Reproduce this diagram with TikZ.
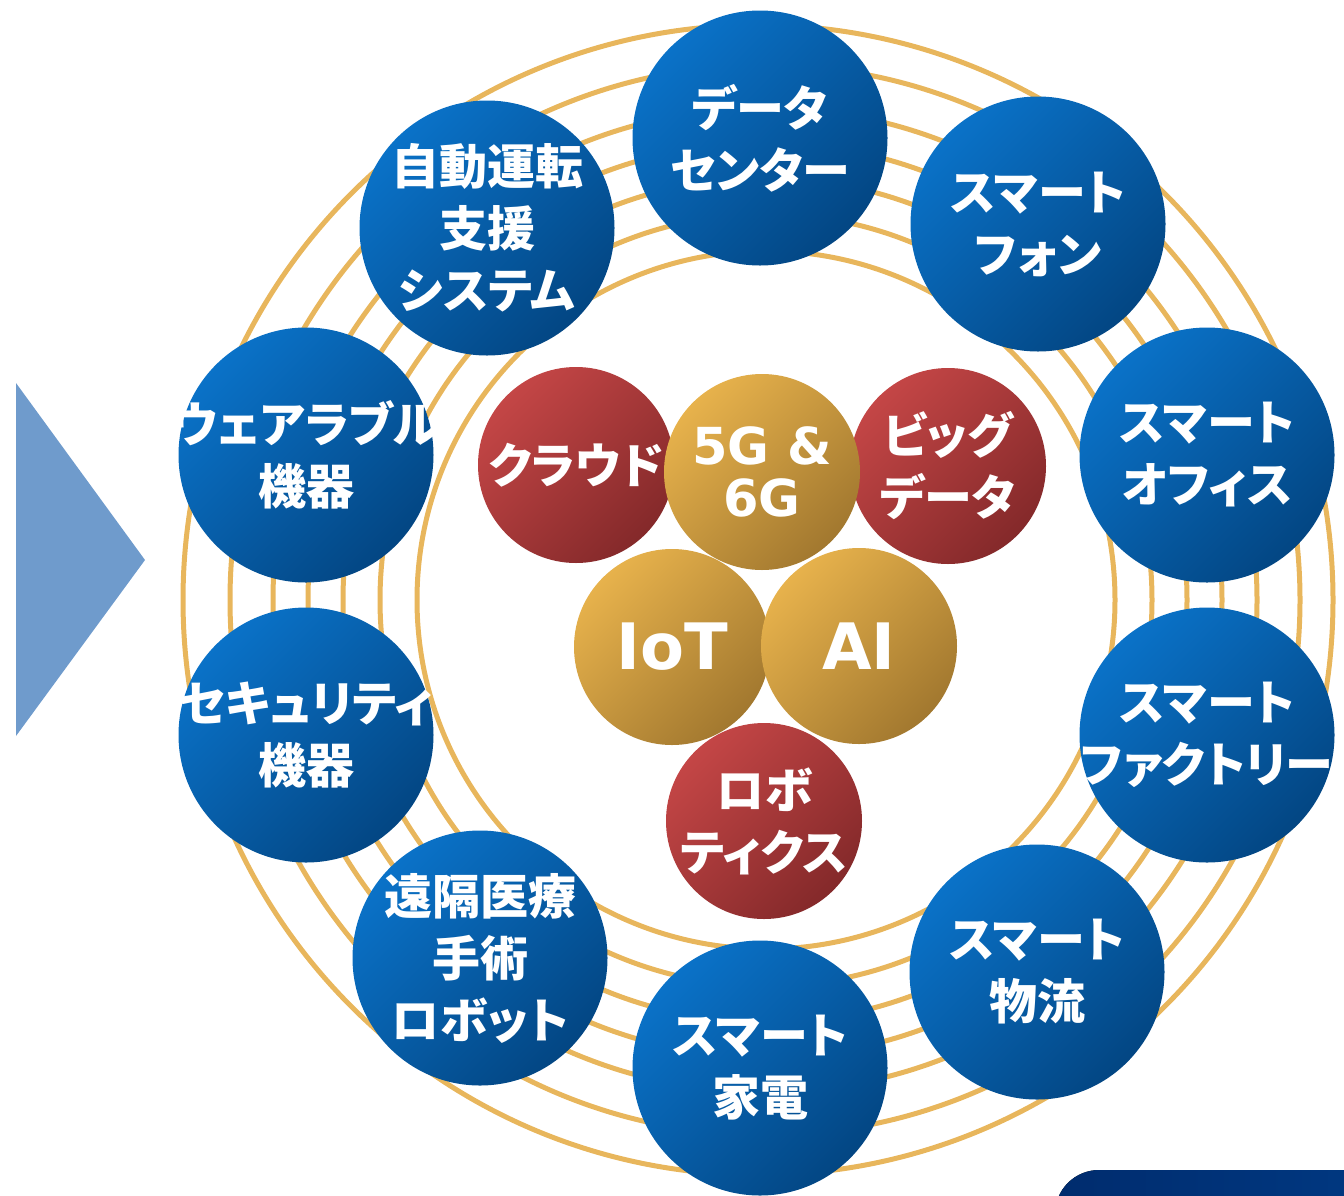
\documentclass[tikz,border=0pt]{standalone}
\usepackage{fontspec}
\newfontfamily\jpfont{Noto Sans CJK JP}[RawFeature=+palt]
\newfontfamily\latfont{DejaVu Sans}
\definecolor{ringgold}{HTML}{E8B65C}
\definecolor{blueL}{HTML}{0A72C8}
\definecolor{blueD}{HTML}{034683}
\definecolor{redL}{HTML}{C44646}
\definecolor{redD}{HTML}{84292A}
\definecolor{goldL}{HTML}{E7B24C}
\definecolor{goldD}{HTML}{A2782F}
\definecolor{arrowblue}{HTML}{6F9BCC}
\definecolor{navyL}{HTML}{002C6E}
\definecolor{navyR}{HTML}{00418F}
\tikzset{
	ring/.style={draw=ringgold, line width=2.5pt},
	ball/.style={circle, inner sep=0pt},
	balltext/.style={align=center, text=white, inner sep=0pt},
	bluecirc/.style={ball, minimum size=127.5pt, top color=blueL, bottom color=blueD, shading angle=45},
	redcirc/.style={ball, minimum size=98pt, top color=redL, bottom color=redD, shading angle=45},
	goldcirc/.style={ball, minimum size=98pt, top color=goldL, bottom color=goldD, shading angle=45},
	jptext/.style={balltext, font=\jpfont\bfseries\fontsize{24pt}{31pt}\selectfont},
	lattext/.style={balltext, font=\latfont\bfseries\fontsize{25.5pt}{26pt}\selectfont},
	bigtext/.style={balltext, font=\latfont\bfseries\fontsize{32pt}{32pt}\selectfont},
}
\begin{document}
\begin{tikzpicture}[x=0.5pt, y=-0.5pt]
	\useasboundingbox (0,0) rectangle (1344,1195);
	% arrow on the left and band at the bottom
	\fill[arrowblue] (16,383) -- (145,560) -- (16,736) -- cycle;
	\fill[left color=navyL, right color=navyR, rounded corners=22pt] (1055,1170) rectangle (1600,1400);
	% rings
	\foreach \r/\cx in {349/766, 386/766, 422/765, 457/765, 492/765, 535/765, 575/758}
		\draw[ring] (\cx,600) circle (\r);
	% outer applications
	\node[bluecirc, label={[jptext]center:データ\\センター}] (dc) at (760,138) {};
	\node[bluecirc, label={[jptext]center:スマート\\フォン}] (sp) at (1038,224) {};
	\node[bluecirc, label={[jptext]center:スマート\\オフィス}] (so) at (1207,455) {};
	\node[bluecirc, label={[jptext]center:スマート\\ファクトリー}] (sf) at (1207,735) {};
	\node[bluecirc, label={[jptext]center:スマート\\物流}] (sl) at (1037,972) {};
	\node[bluecirc, label={[jptext]center:スマート\\家電}] (sh) at (760,1068) {};
	\node[bluecirc, label={[jptext]center:遠隔医療\\手術\\ロボット}] (rm) at (480,958) {};
	\node[bluecirc, label={[jptext]center:セキュリティ\\機器}] (sc) at (306,735) {};
	\node[bluecirc, label={[jptext]center:ウェアラブル\\機器}] (wr) at (306,455) {};
	\node[bluecirc, label={[jptext]center:自動運転\\支援\\システム}] (ad) at (487,228) {};
	% core technologies
	\node[redcirc, label={[jptext]center:クラウド}] (cl) at (576,465) {};
	\node[redcirc, label={[jptext]center:ビッグ\\データ}] (bd) at (948,466) {};
	\node[goldcirc, label={[lattext]center:5G \&\\6G}] (g5) at (762,472) {};
	\node[goldcirc, label={[bigtext]center:IoT}] (iot) at (672,647) {};
	\node[goldcirc, label={[bigtext]center:AI}] (ai) at (859,646) {};
	\node[redcirc, label={[jptext]center:ロボ\\ティクス}] (rb) at (764,821) {};
\end{tikzpicture}
\end{document}
